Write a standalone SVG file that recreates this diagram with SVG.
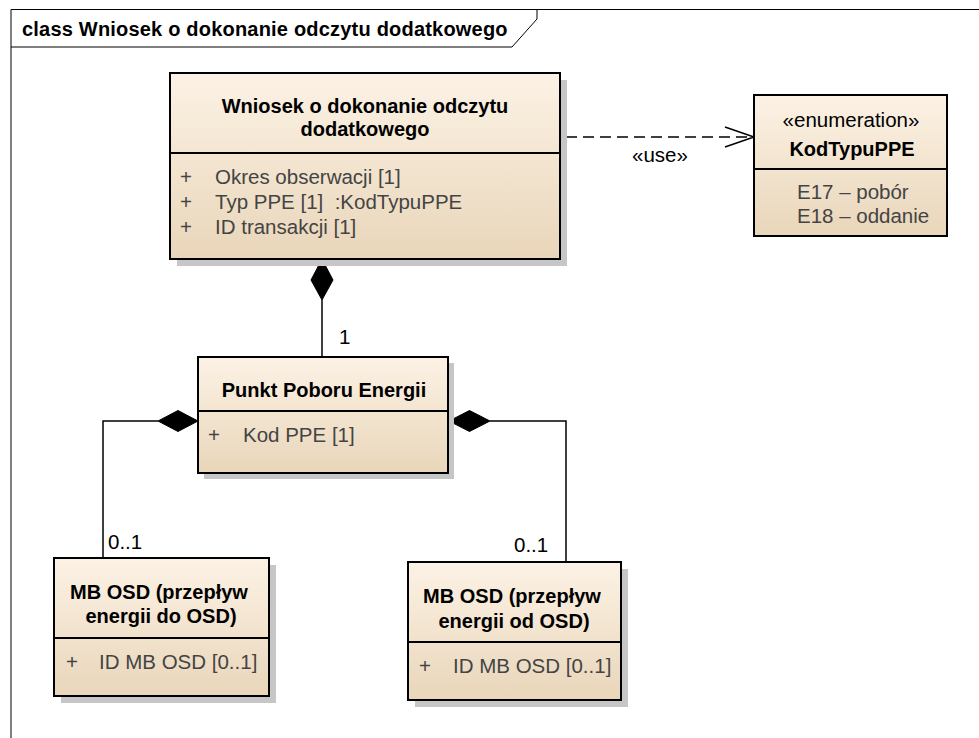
<svg xmlns="http://www.w3.org/2000/svg" width="979" height="738" viewBox="0 0 979 738">
<defs>
<linearGradient id="fillG" x1="0" y1="0" x2="0" y2="1">
<stop offset="0" stop-color="#FCF2E5"/>
<stop offset="1" stop-color="#E9D6BA"/>
</linearGradient>
</defs>
<style>
text{font-family:"Liberation Sans",Arial,sans-serif;font-size:20.5px}
.t{font-weight:bold;fill:#000;text-anchor:middle;font-size:20px}
.h{font-weight:bold;fill:#000;font-size:20px;letter-spacing:0.2px}
.a{fill:#444}
.box{fill:url(#fillG);stroke:#000;stroke-width:2}
.shadow{fill:#c6c6c6}
.sep{stroke:#000;stroke-width:2}
.frame{fill:none;stroke:#000;stroke-width:1}
.conn{fill:none;stroke:#000;stroke-width:1.5}
.dia{fill:#000;stroke:#000;stroke-width:1}
.lbl{fill:#000}
</style>
<rect width="979" height="738" fill="#fff"/>
<g id="frame">
<path class="frame" d="M11,738 V9.5 H979"/>
<path class="frame" d="M11,47 H512 L537,19 V9.5"/>
<text class="h" x="22" y="36">class Wniosek o dokonanie odczytu dodatkowego</text>
</g>
<g id="connectors">
<path class="conn" d="M566,137 H753" stroke-dasharray="11,6"/>
<path class="conn" d="M725,127 L754,137 L725,147"/>
<text class="lbl" x="660" y="162" text-anchor="middle">«use»</text>
<path class="conn" d="M322,300 V357"/>
<polygon class="dia" points="322,259 333,280 322,300 311,280"/>
<text class="lbl" x="339" y="344">1</text>
<path class="conn" d="M158,421 H103 V558"/>
<polygon class="dia" points="198,421 178,410.5 158,421 178,431.5"/>
<text class="lbl" x="108" y="549">0..1</text>
<path class="conn" d="M490,421 H566 V562"/>
<polygon class="dia" points="449,421 469.5,410.5 490,421 469.5,431.5"/>
<text class="lbl" x="514" y="552">0..1</text>
</g>
<g id="wniosek">
<rect class="shadow" x="177" y="80" width="390" height="186"/>
<rect class="box" x="170" y="73" width="390" height="186"/>
<line class="sep" x1="170" y1="153" x2="560" y2="153"/>
<text class="t" x="365" y="113">Wniosek o dokonanie odczytu</text>
<text class="t" x="365" y="136">dodatkowego</text>
<text class="a" x="180" y="184">+</text><text class="a" x="215" y="184">Okres obserwacji [1]</text>
<text class="a" x="180" y="209">+</text><text class="a" x="215" y="209">Typ PPE [1]&#160; :KodTypuPPE</text>
<text class="a" x="180" y="234">+</text><text class="a" x="215" y="234">ID transakcji [1]</text>
</g>
<g id="kodTypuPPE">
<rect class="box" x="754" y="95" width="193" height="141"/>
<line class="sep" x1="754" y1="169" x2="947" y2="169"/>
<text x="851" y="127" text-anchor="middle" fill="#000">«enumeration»</text>
<text class="t" x="852" y="156">KodTypuPPE</text>
<text class="a" x="797" y="199">E17 – pobór</text>
<text class="a" x="797" y="223">E18 – oddanie</text>
</g>
<g id="punkt">
<rect class="shadow" x="204" y="363" width="250" height="116"/>
<rect class="box" x="198" y="357" width="250" height="116"/>
<line class="sep" x1="198" y1="411" x2="448" y2="411"/>
<text class="t" x="324" y="397">Punkt Poboru Energii</text>
<text class="a" x="208" y="442">+</text><text class="a" x="243" y="442">Kod PPE [1]</text>
</g>
<g id="mbDo">
<rect class="shadow" x="61" y="565" width="215" height="138"/>
<rect class="box" x="54" y="558" width="215" height="138"/>
<line class="sep" x1="54" y1="638" x2="269" y2="638"/>
<text class="t" x="159" y="599">MB OSD (przepływ</text>
<text class="t" x="161" y="623">energii do OSD)</text>
<text class="a" x="66" y="669">+</text><text class="a" x="99" y="669">ID MB OSD [0..1]</text>
</g>
<g id="mbOd">
<rect class="shadow" x="415" y="569" width="213" height="138"/>
<rect class="box" x="408" y="562" width="213" height="138"/>
<line class="sep" x1="408" y1="642" x2="621" y2="642"/>
<text class="t" x="512" y="603">MB OSD (przepływ</text>
<text class="t" x="514" y="628">energii od OSD)</text>
<text class="a" x="419" y="673">+</text><text class="a" x="453" y="673">ID MB OSD [0..1]</text>
</g>
</svg>
